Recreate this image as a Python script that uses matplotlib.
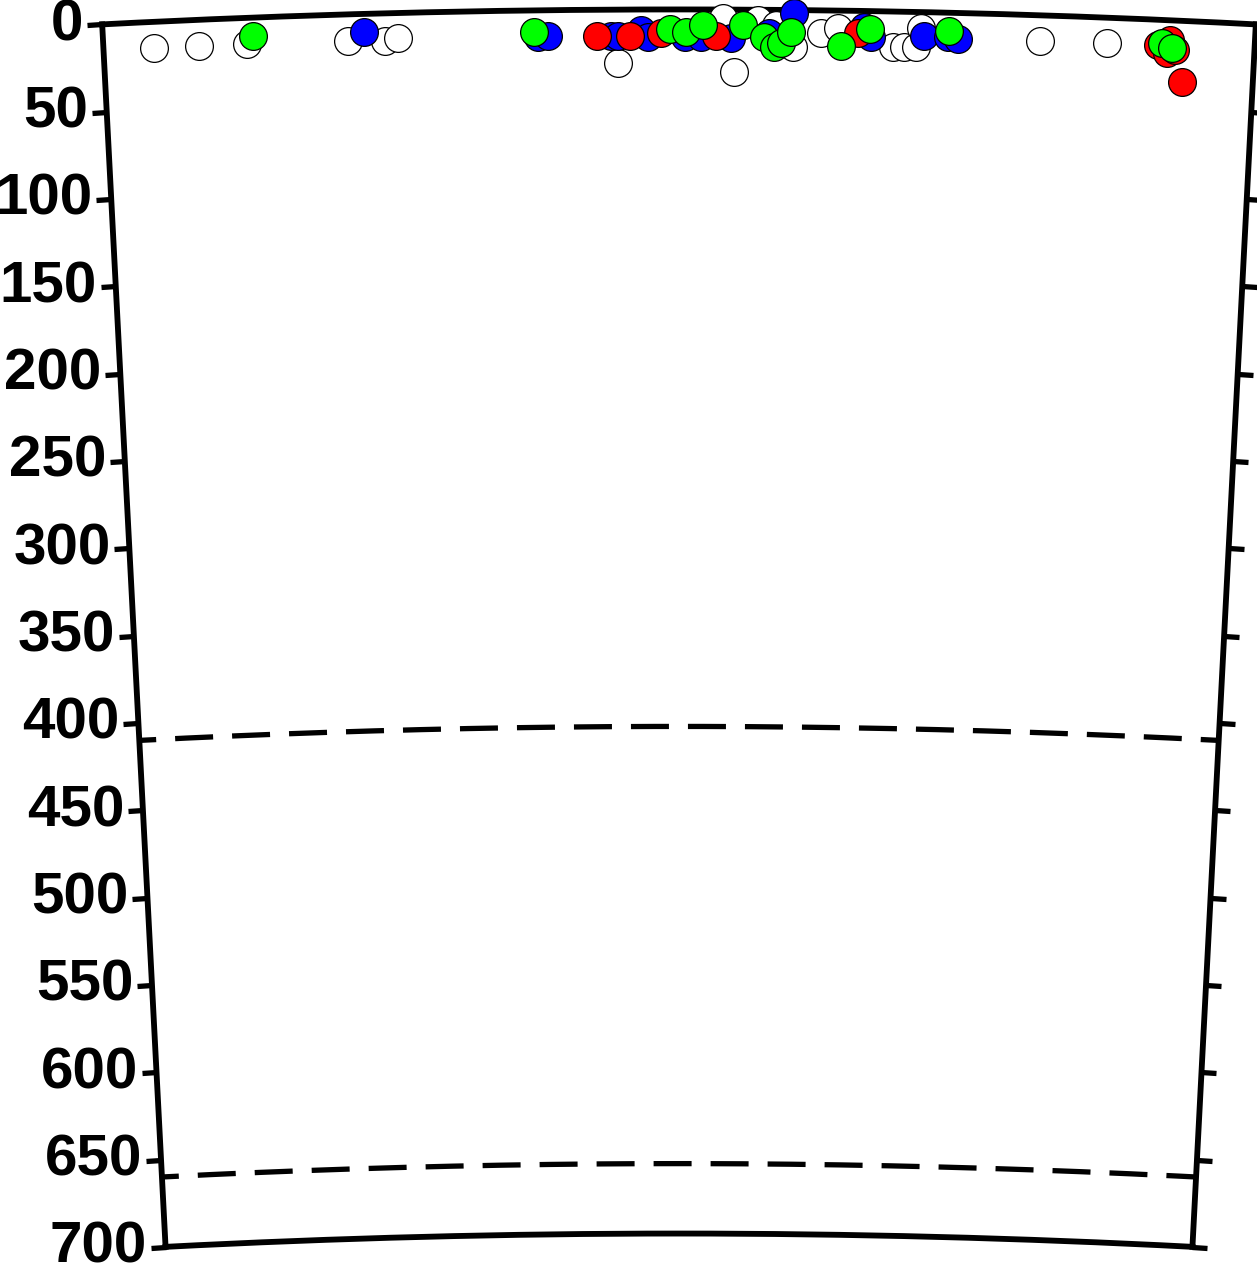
import numpy as np
import matplotlib.pyplot as plt

plt.rcParams['font.family'] = ['Liberation Sans', 'DejaVu Sans']
plt.rcParams['font.weight'] = 'bold'

R_EARTH = 6371.0
PROFILE_LEN = 660.0   # km along the surface, left edge to right edge
MAX_DEPTH = 700

# distance along profile (km) and depth (km) for each event group
white_dist = [28.9, 54.7, 82.1, 140.0, 161.7, 169.2, 295.1, 355.2, 361.5, 375.2,
              385.5, 395.3, 411.3, 421.0, 452.5, 458.8, 465.7, 468.5, 537.2, 575.6]
white_depth = [14.8, 14.8, 14.8, 15.1, 15.7, 14.2, 30.4, 4.7, 35.6, 5.8,
               8.6, 21.0, 13.0, 10.0, 20.1, 20.1, 20.3, 8.9, 14.5, 14.3]

blue_dist = [149.7, 249.3, 255.0, 291.1, 295.1, 308.2, 312.3, 333.4, 342.6, 359.8,
             381.5, 395.8, 435.9, 439.9, 470.2, 484.0, 489.7]
blue_depth = [10.2, 15.1, 14.5, 14.9, 14.9, 11.6, 15.6, 16.0, 16.0, 16.0,
              13.2, 1.6, 9.0, 14.8, 13.5, 13.9, 14.8]

red_dist = [283.1, 302.0, 319.7, 351.2, 432.5, 604.8, 609.9, 611.6, 614.5, 619.1]
red_depth = [14.9, 15.0, 13.3, 15.0, 12.5, 14.3, 18.6, 11.2, 16.8, 34.8]

green_dist = [86.2, 247.0, 324.8, 334.0, 343.7, 366.6, 378.7, 384.4, 388.4, 394.1,
              422.7, 439.3, 484.5, 607.0, 612.8]
green_depth = [10.4, 12.2, 11.0, 12.8, 8.8, 8.6, 15.5, 21.1, 18.7, 12.4,
               20.0, 10.1, 10.3, 13.1, 16.0]

disc_depths = [410, 660]
depth_ticks = list(range(0, MAX_DEPTH + 1, 50))

fig = plt.figure(figsize=(12.57, 12.71), dpi=100)
# polar wedge is shrunk inside its box, so the box is made a bit larger
ax = fig.add_axes([60.3 / 1257, -21.5 / 1271, 1237.4 / 1257, 1328.7 / 1271], projection='polar')

half = np.degrees(PROFILE_LEN / 2 / R_EARTH)
ax.set_theta_zero_location('N')
ax.set_theta_direction(-1)
ax.set_thetamin(-half)
ax.set_thetamax(half)
ax.set_rlim(R_EARTH - MAX_DEPTH, R_EARTH)
ax.set_rorigin(0)


def to_polar(dist, depth):
    th = (np.asarray(dist) - PROFILE_LEN / 2) / R_EARTH
    return th, R_EARTH - np.asarray(depth)


# discontinuities
th_line = np.linspace(-PROFILE_LEN / 2, PROFILE_LEN / 2, 300) / R_EARTH
for d in disc_depths:
    ax.plot(th_line, np.full_like(th_line, R_EARTH - d), color='black', lw=3.8,
            linestyle=(4, (7.2, 3.6)), solid_capstyle='butt')

groups = [(white_dist, white_depth, 'white'),
          (blue_dist, blue_depth, '#0000ff'),
          (red_dist, red_depth, '#ff0000'),
          (green_dist, green_depth, '#00ff00')]
for dist, depth, col in groups:
    th, r = to_polar(dist, depth)
    ax.plot(th, r, 'o', ms=20, mfc=col, mec='black', mew=0.9, clip_on=False, zorder=3)

ax.set_xticks([])
ax.set_yticks([R_EARTH - d for d in depth_ticks])
ax.set_yticklabels([str(d) for d in depth_ticks])
ax.grid(False)
ax.tick_params(axis='y', left=True, right=True, labelleft=True, labelright=False,
               labelsize=42, length=10.5, width=3.8, direction='out', pad=3)
for s in ax.spines.values():
    s.set_linewidth(4.2)

fig.savefig('out.png', dpi=100)
